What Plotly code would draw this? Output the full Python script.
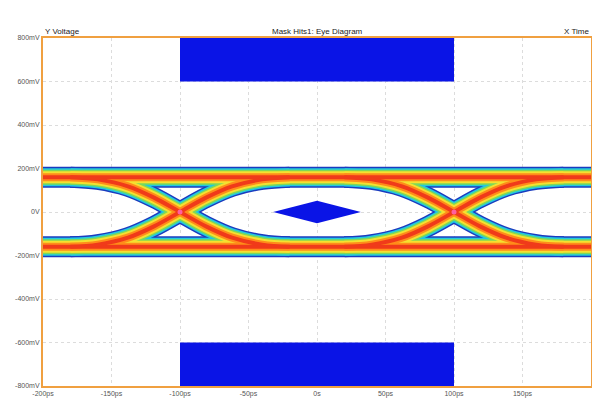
import plotly.graph_objects as go

# mask regions (ps, mV)
mask_top_x = [-100, 100, 100, -100, -100]
mask_top_y = [600, 600, 800, 800, 600]
mask_bot_x = [-100, 100, 100, -100, -100]
mask_bot_y = [-600, -600, -800, -800, -600]
mask_mid_x = [-32, 0, 32, 0, -32]
mask_mid_y = [0, 52, 0, -52, 0]

# eye levels and edge shape
high_level = 160
low_level = -160
crossings = [-100, 100]
edge_dt = [-80, -60, -38, -19, 0, 19, 38, 60, 80]
edge_v = [-160, -150, -118, -66, 0, 66, 118, 150, 160]

x_ticks = [-200, -150, -100, -50, 0, 50, 100, 150]
x_labels = ["-200ps", "-150ps", "-100ps", "-50ps", "0s", "50ps", "100ps", "150ps"]
y_ticks = [800, 600, 400, 200, 0, -200, -400, -600, -800]
y_labels = ["800mV", "600mV", "400mV", "200mV", "0V", "-200mV", "-400mV", "-600mV", "-800mV"]

# density layers, outer to inner
layers = [("#1a3bbf", 21), ("#22c8e0", 18), ("#7ed957", 15), ("#f5e030", 12), ("#ff8c1a", 8), ("#f03a1a", 4)]

fig = go.Figure()

paths = [([-200, 200], [high_level, high_level]), ([-200, 200], [low_level, low_level])]
for c in crossings:
    xs = [c + d for d in edge_dt]
    paths.append((xs, edge_v))
    paths.append((xs, [-v for v in edge_v]))

for color, w in layers:
    for xs, ys in paths:
        fig.add_trace(go.Scatter(x=xs, y=ys, mode="lines", line=dict(color=color, width=w, shape="spline"),
                                 hoverinfo="skip", showlegend=False))

fig.add_trace(go.Scatter(x=crossings, y=[0, 0], mode="markers", marker=dict(color="#ff5fa0", size=5),
                         showlegend=False))

for mx, my in [(mask_top_x, mask_top_y), (mask_bot_x, mask_bot_y), (mask_mid_x, mask_mid_y)]:
    fig.add_trace(go.Scatter(x=mx, y=my, mode="lines", fill="toself", fillcolor="#0a14e6",
                             line=dict(color="#0a14e6", width=0), showlegend=False))

axis_common = dict(showgrid=True, gridcolor="#dcdcdc", griddash="dot", gridwidth=1, zeroline=False,
                   showline=True, linecolor="#f0a040", linewidth=2, mirror=True, automargin=False,
                   tickfont=dict(family="Liberation Sans Narrow, Arial Narrow, sans-serif", size=7, color="#555"),
                   ticks="")
fig.update_xaxes(range=[-200, 200], tickvals=x_ticks, ticktext=x_labels, **axis_common)
fig.update_yaxes(range=[-800, 800], tickvals=y_ticks, ticktext=y_labels, **axis_common)

hdr = dict(family="Liberation Sans Narrow, Arial Narrow, sans-serif", size=8, color="#222")
fig.update_layout(
    width=600, height=400, margin=dict(l=35, r=17, t=30, b=22),
    plot_bgcolor="white", paper_bgcolor="white",
    annotations=[
        dict(text="Y Voltage", x=0, y=1, xref="paper", yref="paper", xanchor="left", yanchor="bottom", showarrow=False, font=hdr),
        dict(text="Mask Hits1: Eye Diagram", x=0.5, y=1, xref="paper", yref="paper", xanchor="center", yanchor="bottom", showarrow=False, font=hdr),
        dict(text="X Time", x=1, y=1, xref="paper", yref="paper", xanchor="right", yanchor="bottom", showarrow=False, font=hdr),
    ],
)

fig.write_html("out.html")
